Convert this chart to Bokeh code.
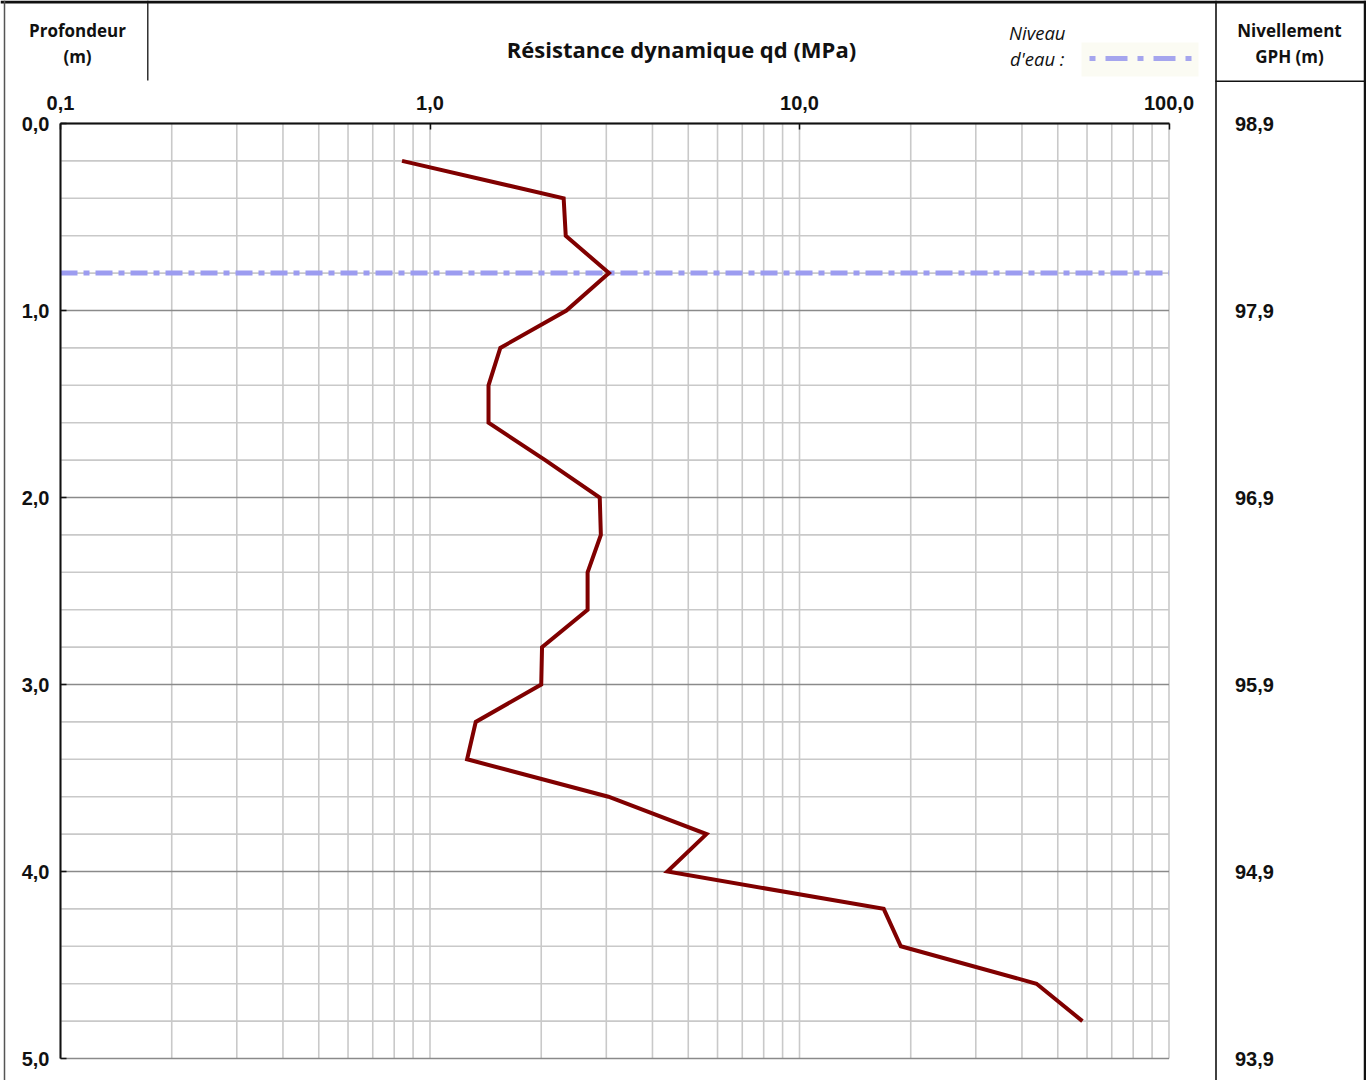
from bokeh.plotting import figure
from bokeh.models import (Range1d, FixedTicker, LinearAxis, LogAxis, CustomJSTickFormatter)
from bokeh.core.properties import value
from bokeh.embed import file_html
from bokeh.resources import INLINE

# ---------------- data ----------------
depth_m = [0.2, 0.4, 0.6, 0.8, 1.0, 1.2, 1.4, 1.6, 1.8, 2.0, 2.2, 2.4,
           2.6, 2.8, 3.0, 3.2, 3.4, 3.6, 3.8, 4.0, 4.2, 4.4, 4.6, 4.8]
qd_mpa = [0.84, 2.30, 2.33, 3.05, 2.34, 1.55, 1.44, 1.44, 2.05, 2.88, 2.90, 2.67,
          2.67, 2.01, 2.00, 1.33, 1.26, 3.04, 5.60, 4.39, 16.9, 18.8, 43.8, 58.3]
water_level_m = 0.8

x_ticks = [0.1, 1.0, 10.0, 100.0]
x_tick_labels = ["0,1", "1,0", "10,0", "100,0"]
x_minor_ticks = [0.2, 0.3, 0.4, 0.5, 0.6, 0.7, 0.8, 0.9,
                 2, 3, 4, 5, 6, 7, 8, 9,
                 20, 30, 40, 50, 60, 70, 80, 90]
depth_ticks = [0, 1, 2, 3, 4, 5]
depth_tick_labels = ["0,0", "1,0", "2,0", "3,0", "4,0", "5,0"]
gph_tick_labels = ["98,9", "97,9", "96,9", "95,9", "94,9", "93,9"]
depth_minor_ticks = [0.2, 0.4, 0.6, 0.8, 1.2, 1.4, 1.6, 1.8, 2.2, 2.4, 2.6, 2.8,
                     3.2, 3.4, 3.6, 3.8, 4.2, 4.4, 4.6, 4.8]

# ---------------- geometry (canvas pixels) ----------------
W, H = 1366, 1080
PX_X0, PX_X1 = 60.0, 1168.5     # pixel of x = 0.1 and x = 100
PX_Y0, PX_Y1 = 123.0, 1058.0    # pixel of depth 0 and depth 5
DEC = (PX_X1 - PX_X0) / 3.0
MPX = (PX_Y1 - PX_Y0) / 5.0


def xd(px):
    """canvas x pixel -> data x (log scale)"""
    return 10 ** (-1 + (px - PX_X0) / DEC)


def yd(py):
    """canvas y pixel -> data y (depth, downwards)"""
    return (py - PX_Y0) / MPX


def label_formatter(vals, labels):
    return CustomJSTickFormatter(args=dict(tvals=vals, tlabels=labels), code="""
        let best = 0, d = Infinity;
        for (let i = 0; i < tvals.length; i++) {
            const e = Math.abs(tick - tvals[i]);
            if (e < d) { d = e; best = i; }
        }
        return tlabels[best];
    """)


p = figure(x_axis_type="log", x_axis_location=None, y_axis_location=None,
           x_range=Range1d(xd(0), xd(W)), y_range=Range1d(yd(H), yd(0)),
           width=W, height=H, min_border=0,
           output_backend="svg", toolbar_location=None)
p.grid.visible = False
p.outline_line_color = None
p.background_fill_color = "white"
p.border_fill_color = "white"

AX_FONT = "Liberation Sans"
INK = "#111111"
GRID_LIGHT = "#c9c9c9"
GRID_DARK = "#8a8a8a"

# ---------------- grid ----------------
vx = x_minor_ticks + x_ticks
p.segment(x0=vx, x1=vx, y0=[depth_ticks[0]] * len(vx), y1=[depth_ticks[-1]] * len(vx),
          line_color=GRID_LIGHT, line_width=1.6)
p.segment(x0=[x_ticks[0]] * len(depth_minor_ticks), x1=[x_ticks[-1]] * len(depth_minor_ticks),
          y0=depth_minor_ticks, y1=depth_minor_ticks, line_color=GRID_LIGHT, line_width=1.6)
p.segment(x0=[x_ticks[0]] * len(depth_ticks), x1=[x_ticks[-1]] * len(depth_ticks),
          y0=depth_ticks, y1=depth_ticks, line_color=GRID_DARK, line_width=1.6)

# water level
p.segment(x0=[x_ticks[0]], x1=[x_ticks[-1]], y0=[water_level_m], y1=[water_level_m],
          line_color="#9c9cf0", line_width=5, line_dash="17 6 6 6")

# penetration curve
p.line(qd_mpa, depth_m, line_color="#800000", line_width=4, line_join="miter")

# ---------------- axes (drawn at fixed locations inside the canvas) ----------------
xa = LogAxis(fixed_location=depth_ticks[0], bounds=(x_ticks[0], x_ticks[-1]),
             ticker=FixedTicker(ticks=x_ticks, minor_ticks=x_minor_ticks),
             formatter=label_formatter(x_ticks, x_tick_labels))
ya = LinearAxis(fixed_location=x_ticks[0], bounds=(depth_ticks[0], depth_ticks[-1]),
                ticker=FixedTicker(ticks=depth_ticks, minor_ticks=depth_minor_ticks),
                formatter=label_formatter(depth_ticks, depth_tick_labels))
for ax in (xa, ya):
    ax.axis_line_color = INK
    ax.axis_line_width = 2
    ax.major_tick_in = 6
    ax.major_tick_out = 0
    ax.major_tick_line_color = INK
    ax.major_tick_line_width = 1.5
    ax.minor_tick_line_color = None
    ax.major_label_text_font = AX_FONT
    ax.major_label_text_font_style = "bold"
    ax.major_label_text_font_size = "20px"
    ax.major_label_text_color = INK
xa.major_label_standoff = 10
ya.major_label_standoff = 7
p.add_layout(xa, "above")
p.add_layout(ya, "left")

ra = LinearAxis(fixed_location=x_ticks[-1], bounds=(depth_ticks[0], depth_ticks[-1]),
                ticker=FixedTicker(ticks=depth_ticks),
                formatter=label_formatter(depth_ticks, gph_tick_labels))
ra.axis_line_color = None
ra.major_tick_line_color = None
ra.minor_tick_line_color = None
ra.major_label_standoff = 60
ra.major_label_text_font = AX_FONT
ra.major_label_text_font_style = "bold"
ra.major_label_text_font_size = "20px"
ra.major_label_text_color = INK
p.add_layout(ra, "right")


# ---------------- frame / header decorations ----------------
def hline(y, x0, x1, w, color=INK):
    p.segment(x0=[xd(x0)], x1=[xd(x1)], y0=[yd(y)], y1=[yd(y)], line_color=color, line_width=w)


def vline(x, y0, y1, w, color=INK):
    p.segment(x0=[xd(x)], x1=[xd(x)], y0=[yd(y0)], y1=[yd(y1)], line_color=color, line_width=w)


hline(1.5, 0, W, 3)               # top border
vline(4, 0, H, 1.5, "#555555")    # left border
vline(1364.5, 0, H, 2.5)          # right border
vline(1215.5, 0, H, 1.6)          # GPH column separator
hline(80.8, 1215, W, 1.6)         # GPH header underline
vline(147.3, 0, 80, 1.3)          # depth header separator

# water-level legend sample
p.quad(left=[xd(1081)], right=[xd(1198)], top=[yd(42)], bottom=[yd(76)],
       fill_color="#fbfbf3", line_color=None)
dash_l = [1089, 1105, 1137, 1153, 1185]
dash_r = [1095, 1127, 1143, 1175, 1191]
p.quad(left=[xd(a) for a in dash_l], right=[xd(b) for b in dash_r],
       top=[yd(55.5)] * 5, bottom=[yd(60.5)] * 5,
       fill_color="#a5a5ee", line_color=None)

HDR_FONT = "Open Sans"


def text(x, y, s, size, align="center", style="bold"):
    p.text(x=[xd(x)], y=[yd(y)], text=[s], text_align=align, text_baseline="middle",
           text_font=value(HDR_FONT), text_font_size=size, text_font_style=style,
           text_color=INK)


text(77, 30, "Profondeur", "17px")
text(77, 56, "(m)", "17px")
text(681, 48, "Résistance dynamique qd (MPa)", "22px")
text(1065, 32, "Niveau", "18.5px", align="right", style="italic")
text(1064, 58, "d'eau :", "18.5px", align="right", style="italic")
text(1289, 30, "Nivellement", "17px")
text(1289, 56, "GPH (m)", "17px")

open("out.html", "w").write(file_html(p, INLINE))
